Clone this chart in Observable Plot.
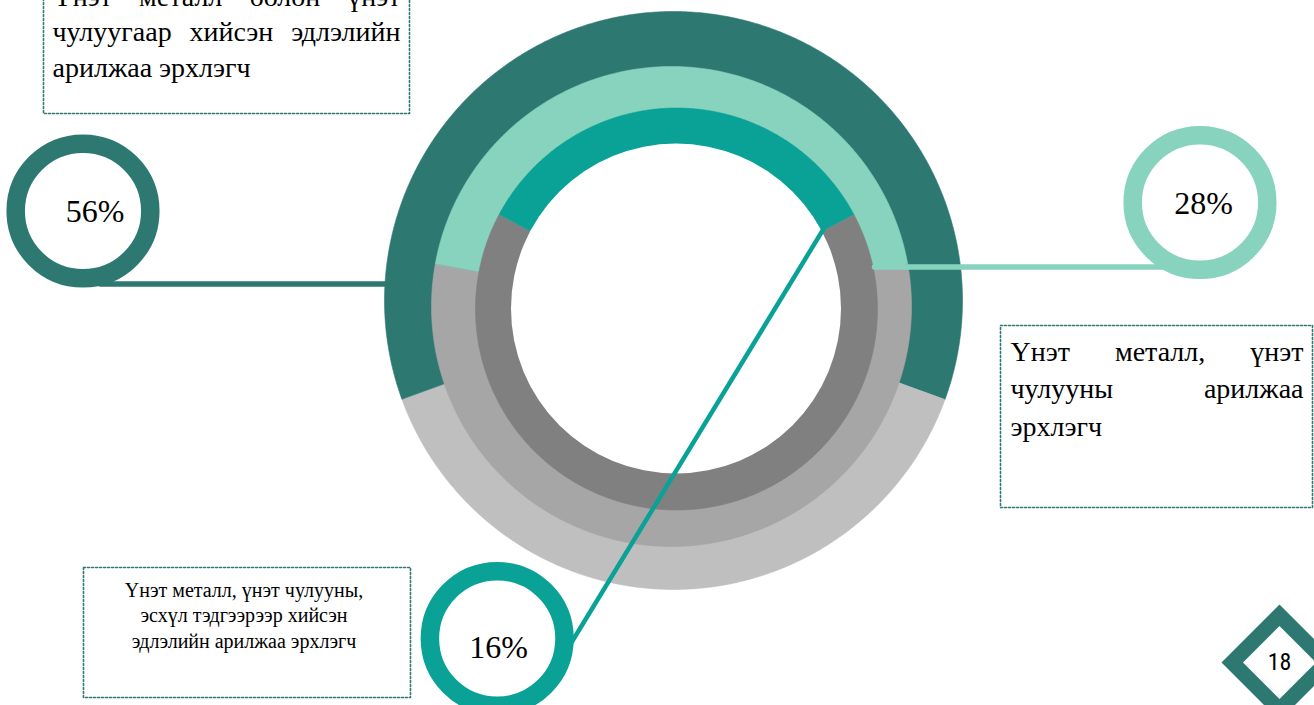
<!DOCTYPE html>
<html>
<head>
<meta charset="utf-8">
<script src="https://cdn.jsdelivr.net/npm/d3@7"></script>
<script src="https://cdn.jsdelivr.net/npm/@observablehq/plot@0.6"></script>
<style>
  html, body { margin: 0; padding: 0; background: #ffffff; overflow: hidden; }
  #chart svg { display: block; }
  #chart svg g.serif-text, #chart svg g.serif-text text { font-family: "Liberation Serif", Tinos, "Times New Roman", "DejaVu Serif", serif !important; }
  #chart svg g.narrow-text, #chart svg g.narrow-text text { font-family: "Liberation Sans Narrow", "Arial Narrow", "Roboto Condensed", "Liberation Sans", sans-serif !important; }
</style>
</head>
<body>
<div id="chart"></div>
<script>
// ---------------- DATA ----------------
// Category labels (outer ring, middle ring, inner ring)
const categoryLines = [
  ["Үнэт металл болон үнэт", "чулуугаар хийсэн эдлэлийн", "арилжаа эрхлэгч"],
  ["Үнэт металл, үнэт", "чулууны арилжаа", "эрхлэгч"],
  ["Үнэт металл, үнэт чулууны,", "эсхүл тэдгээрээр хийсэн", "эдлэлийн арилжаа эрхлэгч"]
];
// Percentages printed in the callout circles
const shares = [56, 28, 16];
// Part of each ring drawn in colour (% of full ring)
const arcShown = [61.1, 44.3, 34.4];
const pageNumber = "18";

// ---------------- STYLE / LAYOUT ----------------
const W = 1314, H = 705;
const colorStrong = ["#2E7872", "#88D3BE", "#0AA297"];
const colorRest = ["#BFBFBF", "#A6A6A6", "#808080"];
const ringGeo = [
  {cx: 673, cy: 300, r: 289},
  {cx: 671, cy: 306, r: 240},
  {cx: 676, cy: 308.5, r: 201}
];
const hole = {cx: 675.5, cy: 308, r: 165};
const callouts = [
  {cx: 82.5, cy: 210.5, tx: 94.5, ty: 211, line: [[100, 283.5], [392, 283.5]]},
  {cx: 1199.5, cy: 202, tx: 1203, ty: 203, line: [[874, 266.5], [1180, 266.5]]},
  {cx: 496.7, cy: 638, tx: 498, ty: 647, line: [[823, 228.5], [560, 660]]}
];
const boxes = [
  {x1: 43, x2: 409, y1: -10, y2: 113, tx0: 52, tx1: 400, base: [5, 40.5, 76], size: 28, align: "justify"},
  {x1: 1000, x2: 1312, y1: 325, y2: 507, tx0: 1010, tx1: 1303, base: [360, 397.5, 435], size: 28, align: "justify"},
  {x1: 83, x2: 410, y1: 567, y2: 697, tx0: 83, tx1: 404, base: [596, 621.5, 647], size: 20, align: "center"}
];
const diamond = {cx: 1279, cy: 662, outer: 58, inner: 36.5};
const serif = '"Liberation Serif", Tinos, "Times New Roman", serif';

// ---------------- GEOMETRY HELPERS ----------------
function sector(g, a0, a1) {
  const pts = [{x: g.cx, y: g.cy}];
  const n = Math.max(2, Math.ceil(Math.abs(a1 - a0) / 0.5));
  for (let i = 0; i <= n; i++) {
    const a = (a0 + (a1 - a0) * i / n) * Math.PI / 180;
    pts.push({x: g.cx + g.r * Math.sin(a), y: g.cy - g.r * Math.cos(a)});
  }
  return pts;
}
function diamondPts(c, h) {
  return [{x: c.cx, y: c.cy - h}, {x: c.cx + h, y: c.cy}, {x: c.cx, y: c.cy + h}, {x: c.cx - h, y: c.cy}];
}
const ctx = document.createElement("canvas").getContext("2d");
function measure(t, size) { ctx.font = `${size}px "Liberation Serif", Tinos, "Times New Roman", serif`; return ctx.measureText(t).width; }
function layoutBox(lines, b) {
  const start = [], middle = [];
  lines.forEach((line, i) => {
    const y = b.base[i];
    if (b.align === "center") { middle.push({x: (b.tx0 + b.tx1) / 2, y, text: line}); return; }
    const words = line.split(" ");
    if (i < lines.length - 1 && words.length > 1) {
      const ws = words.map(w => measure(w, b.size));
      const gap = (b.tx1 - b.tx0 - d3.sum(ws)) / (words.length - 1);
      let x = b.tx0;
      words.forEach((w, j) => { start.push({x, y, text: w}); x += ws[j] + gap; });
    } else start.push({x: b.tx0, y, text: line});
  });
  return {start, middle};
}

// ---------------- MARKS ----------------
const marks = [];
// Text boxes (dotted frames)
boxes.forEach(b => {
  marks.push(Plot.line([{x: b.x1, y: b.y1}, {x: b.x2, y: b.y1}, {x: b.x2, y: b.y2}, {x: b.x1, y: b.y2}, {x: b.x1, y: b.y1}],
    {x: "x", y: "y", stroke: colorStrong[0], strokeWidth: 1.6, strokeDasharray: "2 2", fill: "none"}));
});
// Rings: coloured share + grey remainder, stacked from outer to inner
shares.forEach((s, i) => {
  const span = arcShown[i] * 3.6;
  const g = ringGeo[i];
  marks.push(Plot.line(sector(g, span / 2, 360 - span / 2), {x: "x", y: "y", fill: colorRest[i], stroke: colorRest[i], strokeWidth: 0.6}));
  marks.push(Plot.line(sector(g, -span / 2, span / 2), {x: "x", y: "y", fill: colorStrong[i], stroke: colorStrong[i], strokeWidth: 0.6}));
});
marks.push(Plot.dot([hole], {x: "cx", y: "cy", r: hole.r, fill: "white", stroke: "none"}));
// Leader lines
callouts.forEach((c, i) => {
  marks.push(Plot.line(c.line.map(([x, y]) => ({x, y})), {x: "x", y: "y", stroke: colorStrong[i], strokeWidth: i === 2 ? 4.5 : 5.5}));
});
// Callout circles with percentages
callouts.forEach((c, i) => {
  marks.push(Plot.dot([c], {x: "cx", y: "cy", r: 67.3, fill: "white", stroke: colorStrong[i], strokeWidth: 18.5}));
  marks.push(Plot.text([c], {x: "tx", y: "ty", text: () => shares[i] + "%", className: "serif-text", fontFamily: serif, fontSize: 32, fill: "black", textAnchor: "middle", lineAnchor: "middle"}));
});
// Box texts
boxes.forEach((b, i) => {
  const {start, middle} = layoutBox(categoryLines[i], b);
  if (start.length) marks.push(Plot.text(start, {x: "x", y: "y", text: "text", className: "serif-text", textAnchor: "start", lineAnchor: "bottom", fontFamily: serif, fontSize: b.size, fill: "black"}));
  if (middle.length) marks.push(Plot.text(middle, {x: "x", y: "y", text: "text", className: "serif-text", textAnchor: "middle", lineAnchor: "bottom", fontFamily: serif, fontSize: b.size, fill: "black"}));
});
// Page number diamond
marks.push(Plot.line(diamondPts(diamond, diamond.outer), {x: "x", y: "y", fill: colorStrong[0], stroke: "none"}));
marks.push(Plot.line(diamondPts(diamond, diamond.inner), {x: "x", y: "y", fill: "white", stroke: "none"}));
marks.push(Plot.text([diamond], {x: "cx", y: "cy", text: () => pageNumber, className: "narrow-text", fontSize: 24, fill: "black", textAnchor: "middle", lineAnchor: "middle"}));

const chart = Plot.plot({
  width: W, height: H, margin: 0,
  x: {domain: [0, W], range: [0, W], axis: null},
  y: {domain: [0, H], range: [0, H], axis: null},
  style: {background: "white", overflow: "hidden"},
  marks
});
document.getElementById("chart").appendChild(chart);
</script>
</body>
</html>
